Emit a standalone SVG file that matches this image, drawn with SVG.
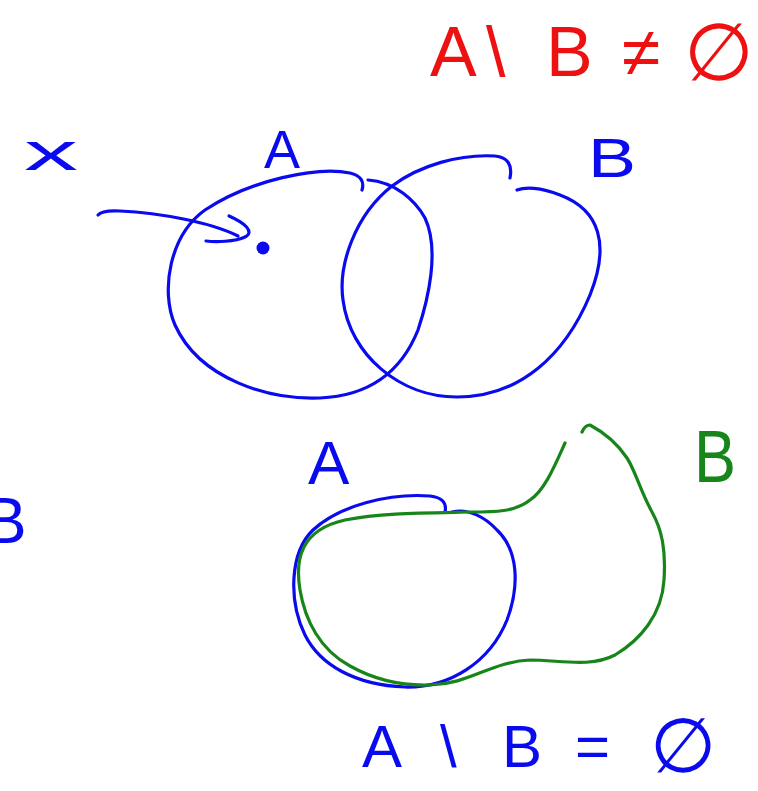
<svg xmlns="http://www.w3.org/2000/svg" width="758" height="791" viewBox="0 0 758 791">
<style>
.s{fill:none;stroke-width:3.2;stroke-linecap:round;stroke-linejoin:round}
.b{stroke:#0a0aee}
.g{stroke:#17851a}
.t{font-family:"Liberation Sans",Arial,sans-serif}
.tb{fill:#0a0aee}
.tg{fill:#17851a}
.tr{fill:#ee1111}
</style>
<rect width="758" height="791" fill="#ffffff"/>
<g id="formula-top">
<text class="t tr" font-size="70" y="76"><tspan x="430">A</tspan><tspan x="486">\</tspan><tspan x="546">B</tspan><tspan x="622">≠</tspan><tspan x="684" font-size="80" y="80">∅</tspan></text>
</g>
<g id="label-x"><text class="t tb" x="24" y="170" font-size="54" textLength="54" lengthAdjust="spacingAndGlyphs">x</text></g>
<g id="label-A-top"><text class="t tb" x="264" y="168" font-size="54">A</text></g>
<g id="label-B-top"><text class="t tb" x="588" y="177" font-size="56" textLength="48" lengthAdjust="spacingAndGlyphs">B</text></g>
<g id="set-A-top">
<path class="s b" d="M 362,190 Q 366,177 350,173 C 318,166 250,180 205,210 C 170,235 160,290 175,325 C 200,380 270,400 320,398 C 365,396 400,375 418,330 C 428,300 440,250 425,218 C 415,200 395,182 368,180"/>
</g>
<g id="set-B-top">
<path class="s b" d="M 510,178 Q 514,158 495,156 C 460,154 420,165 392,186 C 355,215 338,265 343,300 C 350,355 400,397 457,397 C 520,397 565,355 590,295 C 610,245 600,210 560,195 C 540,187 525,187 517,190"/>
</g>
<g id="point-x">
<circle cx="263" cy="248" r="6.5" fill="#0a0aee"/>
</g>
<g id="connectors">
<path class="s b" d="M 98,215 Q 102,210 120,211 C 160,213 210,222 238,236"/>
<path class="s b" d="M 229,216 C 245,223 255,232 245,237 C 235,242 215,242 206,241"/>
</g>
<g id="label-B-left"><text class="t tb" x="-16" y="543" font-size="64">B</text></g>
<g id="label-A-bottom"><text class="t tb" x="308" y="484" font-size="62">A</text></g>
<g id="label-B-bottom"><text class="t tg" x="694" y="482" font-size="74" textLength="42" lengthAdjust="spacingAndGlyphs">B</text></g>
<g id="set-A-bottom">
<path class="s b" d="M 445,512 Q 448,498 430,496 C 390,493 340,505 313,530 C 290,552 288,600 305,635 C 320,665 355,685 405,687 C 450,688 490,662 507,620 C 520,585 518,550 497,530 C 485,517 468,508 452,512"/>
</g>
<g id="set-B-bottom">
<path class="s g" d="M 565,443 C 555,465 545,490 530,500 C 515,512 495,512 470,512 C 420,513 380,513 345,520 C 300,530 295,560 300,590 C 305,620 320,650 350,666 C 375,680 400,686 430,685 C 470,684 490,662 530,660 C 560,660 590,668 615,655 C 640,640 662,615 664,580 C 666,550 662,530 652,512 C 640,490 635,470 627,458 C 617,443 605,433 590,425 Q 585,425 582,432"/>
</g>
<g id="formula-bottom">
<text class="t tb" font-size="60" y="767"><tspan x="362">A</tspan><tspan x="440">\</tspan><tspan x="502">B</tspan><tspan x="575">=</tspan><tspan x="650" font-size="76" y="772">∅</tspan></text>
</g>
</svg>
